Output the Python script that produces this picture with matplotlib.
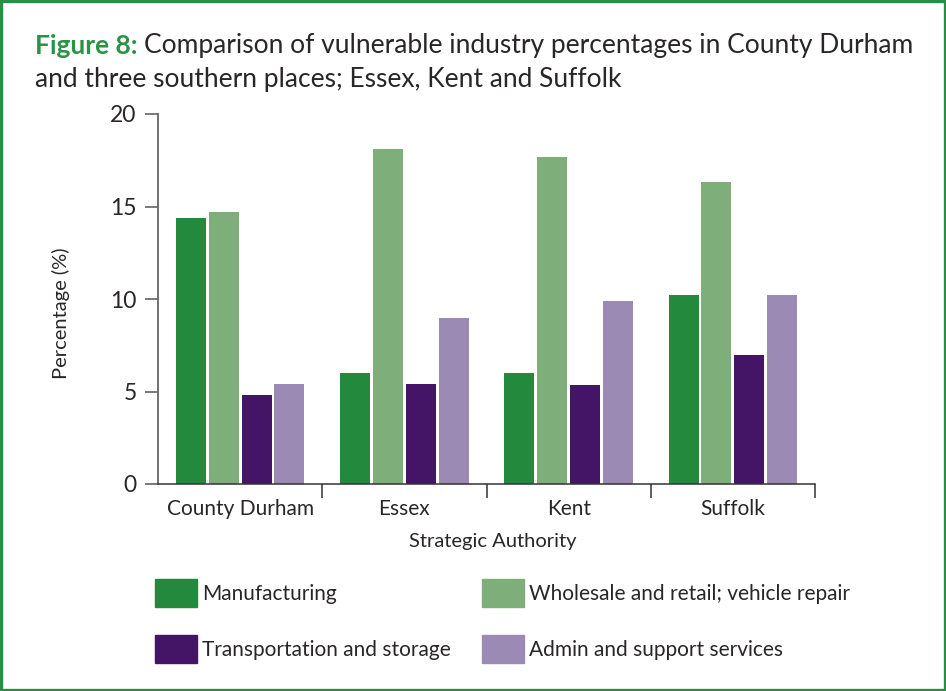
import matplotlib
matplotlib.use("Agg")
import matplotlib.pyplot as plt
from matplotlib.patches import Patch, Rectangle
import numpy as np

# data
authorities = ["County Durham", "Essex", "Kent", "Suffolk"]
manufacturing = [14.4, 6.0, 6.0, 10.2]
wholesale = [14.7, 18.1, 17.7, 16.3]
transport = [4.8, 5.4, 5.35, 7.0]
admin = [5.4, 9.0, 9.9, 10.2]
series_names = ["Manufacturing", "Wholesale and retail; vehicle repair",
                "Transportation and storage", "Admin and support services"]
y_ticks = [0, 5, 10, 15, 20]

colors = ["#23893c", "#7eaf7b", "#441467", "#9b8ab4"]
GREEN = "#2b9444"
TEXT = "#2a2627"

plt.rcParams["font.family"] = ["Lato", "DejaVu Sans"]

W, H = 946, 691
fig = plt.figure(figsize=(W / 100, H / 100), dpi=100)
fig.patch.set_facecolor("white")

def fx(px):
    return px / W

def fy(py):
    return 1 - py / H

ax = fig.add_axes([fx(158), fy(484), fx(815) - fx(158), fy(114) - fy(484)])

x = np.arange(len(authorities))
step = 0.2
width = 0.183
all_series = [manufacturing, wholesale, transport, admin]
for i, (vals, c) in enumerate(zip(all_series, colors)):
    ax.bar(x + (i - 1.5) * step, vals, width=width, color=c, linewidth=0)

ax.set_xlim(-0.5, 3.5)
ax.set_ylim(0, 20)
ax.set_yticks(y_ticks)
ax.set_yticklabels([str(v) for v in y_ticks])
ax.set_xticks(x)
ax.set_xticklabels(authorities)
ax.set_xticks([0.5, 1.5, 2.5, 3.5], minor=True)

ax.tick_params(axis="x", which="major", length=0, pad=11, labelsize=15, labelcolor=TEXT)
ax.tick_params(axis="x", which="minor", length=10, width=1.1, color="#333333", direction="out")
ax.tick_params(axis="y", length=9.4, width=1.1, color="#555555", pad=6, labelsize=16.5, labelcolor=TEXT)

for s in ["top", "right"]:
    ax.spines[s].set_visible(False)
ax.spines["left"].set_color("#666666")
ax.spines["left"].set_linewidth(1.3)
ax.spines["bottom"].set_color("#333333")
ax.spines["bottom"].set_linewidth(1.1)

# axis labels
fig.text(fx(61), fy(313), "Percentage (%)", rotation=90, ha="center", va="center",
         fontsize=14.5, color=TEXT)
fig.text(fx(493), fy(542), "Strategic Authority", ha="center", va="center",
         fontsize=14.5, color=TEXT)

# title
t1 = fig.text(fx(35), fy(54), "Figure 8:", fontsize=19, fontweight="bold",
              color=GREEN, va="baseline", ha="left")
ax.annotate("Comparison of vulnerable industry percentages in County Durham",
            xy=(1, 0), xycoords=t1, xytext=(6, 0), textcoords="offset pixels",
            ha="left", va="bottom", fontsize=19, color=TEXT, annotation_clip=False)
fig.text(fx(35), fy(87), "and three southern places; Essex, Kent and Suffolk",
         fontsize=19, color=TEXT, va="baseline", ha="left")

# legend, two columns placed separately
leg_kw = dict(frameon=False, loc="upper left", borderpad=0, borderaxespad=0,
              handlelength=2.0, handleheight=1.68, handletextpad=0.25,
              labelspacing=1.35, fontsize=15)
h1 = [Patch(color=colors[0], label=series_names[0]),
      Patch(color=colors[2], label=series_names[2])]
h2 = [Patch(color=colors[1], label=series_names[1]),
      Patch(color=colors[3], label=series_names[3])]
lg1 = fig.legend(handles=h1, bbox_to_anchor=(fx(155), fy(579)), **leg_kw)
lg2 = fig.legend(handles=h2, bbox_to_anchor=(fx(482), fy(579)), **leg_kw)
for lg in (lg1, lg2):
    for t in lg.get_texts():
        t.set_color(TEXT)

# green frame
fig.patches.append(Rectangle((0.0015, 0.002), 0.997, 0.996, transform=fig.transFigure,
                             fill=False, edgecolor="#2a8c45", linewidth=2.4))

fig.savefig("out.png", dpi=100)
